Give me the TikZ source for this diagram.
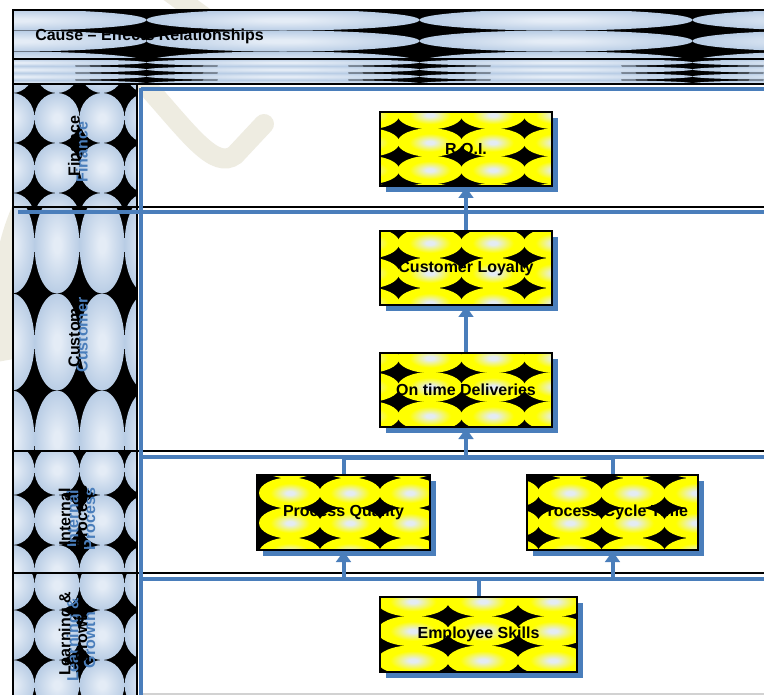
\documentclass[tikz,border=0pt]{standalone}
\usepackage{fontspec}
\setmainfont{Liberation Sans}
\usetikzlibrary{arrows.meta}
\definecolor{bedge}{HTML}{B9CDE5}
\definecolor{bctr}{HTML}{E4ECF6}
\definecolor{yctr}{HTML}{E4ECF4}
\definecolor{ofblue}{HTML}{4A7EBB}
\definecolor{wmk}{HTML}{EEECE1}
\pgfdeclareradialshading{yelsh}{\pgfpoint{0bp}{0bp}}{color(0bp)=(yctr); color(3bp)=(yctr); color(16bp)=(yellow); color(25bp)=(yellow); color(50bp)=(yellow)}
\pgfdeclareradialshading{blush}{\pgfpoint{0bp}{0bp}}{color(0bp)=(bctr); color(4bp)=(bctr); color(25bp)=(bedge); color(50bp)=(bedge)}
\tikzset{
  bk/.style={draw=black, line width=2pt},
  bl/.style={draw=ofblue, line width=3pt},
  conn/.style={draw=ofblue, line width=3pt},
  arr/.style={conn, -{Triangle[width=11pt,length=8pt]}},
  lbl/.style={font=\bfseries\fontsize{12}{12.5}\selectfont, rotate=90, align=center, inner sep=0pt},
  wm/.style={draw=wmk, line width=15pt},
  shadowbox/.style={fill=ofblue},
  ybox/.style={draw=black, line width=2pt, inner sep=0pt, font=\bfseries\fontsize{12}{14}\selectfont}
}
% #1,#2 top-left; #3,#4 bottom-right; #5,#6 first tile centre offset; #7,#8 tile pitch
\newcommand{\ybpat}[8]{%
  \fill[shadowbox] (#1+6,#2+6) rectangle (#3+6,#4+6);
  \begin{scope}
    \clip (#1,#2) rectangle (#3,#4);
    \fill[black] (#1,#2) rectangle (#3,#4);
    \foreach \i in {0,...,5} \foreach \j in {-1,...,3}
      \shade[shading=yelsh] ({#1+#5+\i*#7},{#2+#6+\j*#8}) ellipse ({#7/2+1} and {#8/2+0.5});
  \end{scope}}
\begin{document}
\begin{tikzpicture}[x=0.75pt,y=-0.75pt]
\useasboundingbox (0,0) rectangle (764,695);
\fill[white] (0,0) rectangle (764,695);
% watermark
\draw[wm, line cap=round] (90,20) -- (150,90) .. controls (190,135) and (215,170) .. (235,155) -- (264,124);
\draw[wm] (160,-15) -- (215,25);
\draw[wm] (40,175) .. controls (5,230) and (-5,290) .. (8,360);
% header
\begin{scope}
  \clip (13,10) rectangle (764,59);
  \fill[black] (13,10) rectangle (764,59);
  \foreach \c in {10,283,556,829} \foreach \r in {20,41,62}
    \shade[shading=blush] (\c,\r) ellipse (136.5 and 10.5);
\end{scope}
\begin{scope}
  \clip (13,59) rectangle (764,84);
  \fill[black] (13,59) rectangle (764,84);
  \foreach \c in {10,283,556,829} \foreach \r in {62.5,69.5,76.5,83.5}
    \shade[shading=blush] (\c,\r) ellipse (136.5 and 3.7);
\end{scope}
% left lane cells
\begin{scope}
  \clip (13,84) rectangle (137,207);
  \fill[black] (13,84) rectangle (137,207);
  \foreach \c in {12,57,102,147} \foreach \r in {68,118,168,218}
    \shade[shading=blush] (\c,\r) ellipse (22.5 and 25);
\end{scope}
\begin{scope}
  \clip (13,207) rectangle (137,451);
  \fill[black] (13,207) rectangle (137,451);
  \foreach \c in {12,57,102,147} \foreach \r in {148,245,342,439,536}
    \shade[shading=blush] (\c,\r) ellipse (22.5 and 48.5);
\end{scope}
\begin{scope}
  \clip (13,451) rectangle (137,573);
  \fill[black] (13,451) rectangle (137,573);
  \foreach \c in {12,57,102,147} \foreach \r in {420,470,520,570,620}
    \shade[shading=blush] (\c,\r) ellipse (22.5 and 25);
\end{scope}
\begin{scope}
  \clip (13,573) rectangle (137,695);
  \fill[black] (13,573) rectangle (137,695);
  \foreach \c in {12,57,102,147} \foreach \r in {535,585,635,685,735}
    \shade[shading=blush] (\c,\r) ellipse (22.5 and 25);
\end{scope}
% frame lines
\draw[bk] (764,10) -- (13,10) -- (13,695);
\draw[bk] (13,59) -- (764,59);
\draw[bk] (13,84) -- (764,84);
\draw[bk] (137,84) -- (137,695);
\draw[bk] (13,207) -- (764,207);
\draw[bk] (13,451) -- (764,451);
\draw[bk] (13,573) -- (764,573);
\draw[bl] (141,89.5) -- (764,89.5);
\draw[bl] (18,212) -- (764,212);
\draw[bl] (141,456.5) -- (764,456.5);
\draw[bl] (141,578.5) -- (764,578.5);
\draw[draw=ofblue, line width=3.5pt] (141,88) -- (141,695);
\draw[gray!35, line width=0.8pt] (143,694) -- (764,694);
% title
\node[anchor=west, font=\bfseries\fontsize{12}{14}\selectfont, inner sep=0pt] (title) at (35,36) {Cause – Effects Relationships};
% lane labels
\node[lbl, text=ofblue] (finB) at (82,152) {Finance};
\node[lbl] (fin) at (74,146) {Finance};
\node[lbl, text=ofblue] (cusB) at (82,335) {Customer};
\node[lbl] (cus) at (74,330) {Customer};
\node[lbl, text=ofblue] (ipB) at (81,519) {Internal\\Process};
\node[lbl] (ip) at (73,517) {Internal\\Process};
\node[lbl, text=ofblue] (lgB) at (81,640) {Learning \&\\Growth};
\node[lbl] (lg) at (73,634) {Learning \&\\Growth};
% boxes
\ybpat{380}{112}{552}{186}{-13}{3}{63}{27.5}
\node[ybox, minimum width=129pt, minimum height=55.5pt] (roi) at (466,149) {R.O.I.};
\ybpat{380}{231}{552}{305}{-13}{12}{63}{30}
\node[ybox, minimum width=129pt, minimum height=55.5pt] (cl) at (466,268) {Customer Loyalty};
\ybpat{380}{353}{552}{427}{-13}{5}{63}{29}
\node[ybox, minimum width=129pt, minimum height=55.5pt] (otd) at (466,390) {On time Deliveries};
\ybpat{257}{475}{430}{550}{33}{18}{60}{30}
\node[ybox, minimum width=129.75pt, minimum height=56.25pt] (pq) at (343.5,512.5) {Process Quality};
\ybpat{527}{475}{698}{550}{-20}{18}{63}{30}
\node[ybox, minimum width=128.25pt, minimum height=56.25pt] (pct) at (612.5,512.5) {Process Cycle Time};
\ybpat{380}{597}{577}{672}{33}{4.5}{70}{29.5}
\node[ybox, minimum width=147.75pt, minimum height=56.25pt] (es) at (478.5,634.5) {Employee Skills};
% connectors
\draw[arr] (cl.north) -- (roi.south);
\draw[arr] (otd.north) -- (cl.south);
\path (otd.south) ++(0,30) coordinate (j1);
\draw[conn] (pq.north) |- (j1) -| (pct.north);
\draw[arr] (j1) -- (otd.south);
\path (es.north) ++(0,-17) coordinate (j2);
\draw[conn] (es.north) -- (j2);
\draw[arr] (j2) -| (pq.south);
\draw[arr] (j2) -| (pct.south);
\end{tikzpicture}
\end{document}
